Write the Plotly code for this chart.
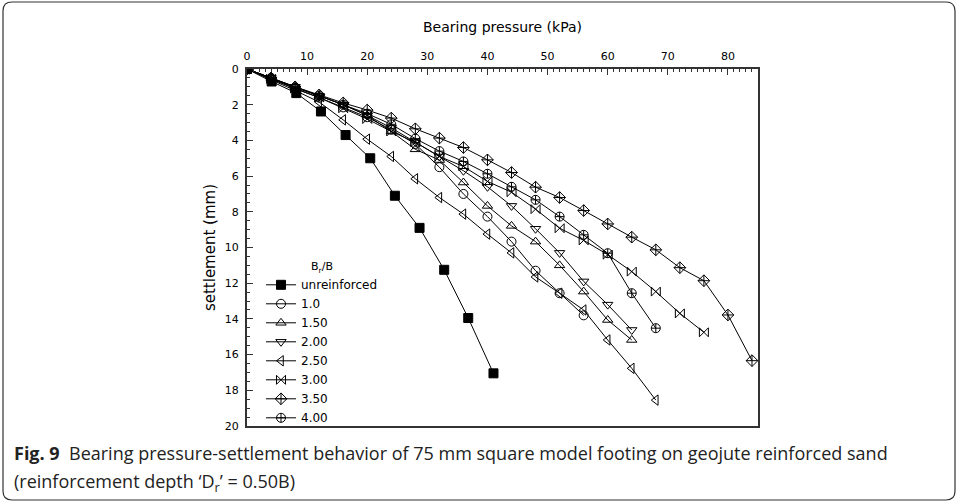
import plotly.graph_objects as go

# ---------------- data ----------------
series_names = ["unreinforced", "1.0", "1.50", "2.00", "2.50", "3.00", "3.50", "4.00"]

p_unrein = [0, 4.1, 8.2, 12.3, 16.4, 20.5, 24.6, 28.7, 32.8, 36.8, 41.0]
s_unrein = [0, 0.7, 1.35, 2.38, 3.7, 5.0, 7.1, 8.9, 11.25, 13.95, 17.05]

p_10 = [0, 4, 8, 12, 16, 20, 24, 28, 32, 36, 40, 44, 48, 52, 56]
s_10 = [0, 0.55, 1.1, 1.6, 2.15, 2.7, 3.4, 4.2, 5.5, 7.0, 8.27, 9.67, 11.3, 12.56, 13.8]

p_15 = [0, 4, 8, 12, 16, 20, 24, 28, 32, 36, 40, 44, 48, 52, 56, 60, 64]
s_15 = [0, 0.5, 1.0, 1.5, 2.0, 2.6, 3.5, 4.5, 5.1, 6.36, 7.67, 8.79, 9.67, 11.0, 12.47, 14.06, 15.18]

p_20 = [0, 4, 8, 12, 16, 20, 24, 28, 32, 36, 40, 44, 48, 52, 56, 60, 64]
s_20 = [0, 0.5, 1.0, 1.5, 2.0, 2.6, 3.3, 4.1, 4.9, 5.7, 6.6, 7.67, 8.95, 10.3, 11.9, 13.2, 14.62]

p_25 = [0, 4, 8, 12, 16, 20, 24, 28, 32, 36, 40, 44, 48, 52, 56, 60, 64, 68]
s_25 = [0, 0.6, 1.2, 1.85, 2.85, 3.93, 4.9, 6.15, 7.2, 8.13, 9.25, 10.3, 11.65, 12.56, 13.5, 15.18, 16.77, 18.55]

p_30 = [0, 4, 8, 12, 16, 20, 24, 28, 32, 36, 40, 44, 48, 52, 56, 60, 64, 68, 72, 76]
s_30 = [0, 0.55, 1.1, 1.6, 2.2, 2.8, 3.5, 4.1, 4.9, 5.46, 6.3, 6.9, 7.85, 8.92, 9.6, 10.4, 11.35, 12.47, 13.69, 14.75]

p_35 = [0, 4, 8, 12, 16, 20, 24, 28, 32, 36, 40, 44, 48, 52, 56, 60, 64, 68, 72, 76, 80, 84]
s_35 = [0, 0.5, 1.0, 1.45, 1.9, 2.3, 2.75, 3.35, 3.87, 4.4, 5.09, 5.8, 6.62, 7.2, 7.93, 8.68, 9.42, 10.13, 11.13, 11.86, 13.78, 16.34]

p_40 = [0, 4, 8, 12, 16, 20, 24, 28, 32, 36, 40, 44, 48, 52, 56, 60, 64, 68]
s_40 = [0, 0.5, 1.05, 1.5, 2.0, 2.5, 3.1, 3.9, 4.6, 5.18, 5.87, 6.6, 7.33, 8.27, 9.29, 10.32, 12.56, 14.52]

pressures = [p_unrein, p_10, p_15, p_20, p_25, p_30, p_35, p_40]
settlements = [s_unrein, s_10, s_15, s_20, s_25, s_30, s_35, s_40]
symbols = ["square", "circle-open", "triangle-up-open", "triangle-down-open",
           "triangle-left-open", "bowtie-open", "diamond-cross-open", "circle-cross-open"]

x_title = "Bearing pressure (kPa)"
y_title = "settlement (mm)"
legend_title = "B<sub>r</sub>/B"
caption1 = "<b>Fig. 9</b>  Bearing pressure-settlement behavior of 75 mm square model footing on geojute reinforced sand"
caption2 = "(reinforcement depth ‘D<sub>r</sub>’ = 0.50B)"

# ---------------- layout geometry (pixels) ----------------
W, H = 959, 504
L, R, T, B = 247, 758, 69, 426


def px(xp):
    return (xp - L) / (R - L)


def py(yp):
    return (B - yp) / (B - T)


fig = go.Figure()
for name, xs, ys, sym in zip(series_names, pressures, settlements, symbols):
    fig.add_trace(go.Scatter(
        x=xs, y=ys, name=name, mode="lines+markers",
        line=dict(color="black", width=1),
        marker=dict(symbol=sym, size=9, color="black",
                    line=dict(color="black", width=1)),
    ))

# rounded border
r = 9
x0, x1, y0, y1 = 3, 955, 2, 500
path = (f"M {px(x0 + r)} {py(y0)} L {px(x1 - r)} {py(y0)} "
        f"Q {px(x1)} {py(y0)} {px(x1)} {py(y0 + r)} "
        f"L {px(x1)} {py(y1 - r)} Q {px(x1)} {py(y1)} {px(x1 - r)} {py(y1)} "
        f"L {px(x0 + r)} {py(y1)} Q {px(x0)} {py(y1)} {px(x0)} {py(y1 - r)} "
        f"L {px(x0)} {py(y0 + r)} Q {px(x0)} {py(y0)} {px(x0 + r)} {py(y0)} Z")
fig.add_shape(type="path", path=path, xref="paper", yref="paper",
              line=dict(color="#333333", width=1.2))

capfont = dict(family="Open Sans", size=18, color="#222")
fig.add_annotation(text=caption1, x=px(12), y=py(453), xref="paper", yref="paper",
                   xanchor="left", yanchor="middle", showarrow=False, font=capfont)
fig.add_annotation(text=caption2, x=px(12), y=py(483), xref="paper", yref="paper",
                   xanchor="left", yanchor="middle", showarrow=False, font=capfont)

tickfont = dict(family="DejaVu Sans", size=11, color="black")
fig.update_layout(
    width=W, height=H,
    margin=dict(l=L, r=W - R, t=T, b=H - B),
    paper_bgcolor="white", plot_bgcolor="white",
    showlegend=True,
    legend=dict(x=px(261), y=py(256), xanchor="left", yanchor="top",
                bgcolor="rgba(0,0,0,0)",
                font=dict(family="DejaVu Sans", size=12, color="black"),
                title=dict(text=legend_title, side="top center",
                           font=dict(family="DejaVu Sans", size=11, color="black")),
                tracegroupgap=0),
    xaxis=dict(range=[0, 85], side="top", showgrid=False, zeroline=False,
               dtick=10, tick0=0, ticks="inside", ticklen=6, tickwidth=1, tickcolor="#333",
               minor=dict(dtick=1, ticks="inside", ticklen=3, tickcolor="#333", showgrid=False),
               showline=True, linecolor="#333", linewidth=2, mirror=True,
               tickfont=tickfont, ticklabelstandoff=3,
               title=dict(text=x_title, standoff=14,
                          font=dict(family="DejaVu Sans", size=14, color="black"))),
    yaxis=dict(range=[20, 0], showgrid=False, zeroline=False,
               dtick=2, tick0=0, ticks="inside", ticklen=6, tickwidth=1, tickcolor="#333",
               minor=dict(dtick=0.5, ticks="inside", ticklen=3, tickcolor="#333", showgrid=False),
               showline=True, linecolor="#333", linewidth=2, mirror=True,
               tickfont=tickfont, ticklabelstandoff=4,
               title=dict(text=y_title, standoff=6,
                          font=dict(family="DejaVu Sans", size=15, color="black"))),
)

fig.write_html("out.html")
